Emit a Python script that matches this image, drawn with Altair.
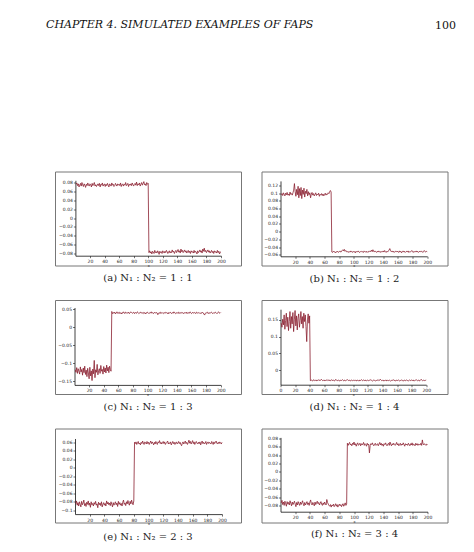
import altair as alt
import pandas as pd

# ---------------- text ----------------
header_left = "CHAPTER 4.  SIMULATED EXAMPLES OF FAPS"
header_right = "100"
captions = [
    "(a) N₁ : N₂ = 1 : 1",
    "(b) N₁ : N₂ = 1 : 2",
    "(c) N₁ : N₂ = 1 : 3",
    "(d) N₁ : N₂ = 1 : 4",
    "(e) N₁ : N₂ = 2 : 3",
    "(f) N₁ : N₂ = 3 : 4",
]

# ---------------- data (x = 1..200, values in thousandths) ----------------
x_vals = list(range(1, 201))

a_milli = [
    76, 79, 73, 77, 70, 74, 78, 72, 80, 75, 71, 77, 74, 69, 76, 73, 79, 74, 72, 77,
    75, 70, 78, 73, 76, 80, 72, 75, 71, 74, 77, 73, 78, 70, 76, 74, 79, 72, 75, 77,
    71, 76, 73, 78, 74, 70, 77, 75, 72, 79, 74, 76, 71, 73, 78, 75, 72, 77, 74, 76,
    73, 79, 71, 75, 77, 72, 76, 74, 80, 73, 75, 78, 71, 76, 74, 77, 73, 79, 75, 72,
    76, 78, 74, 81, 73, 77, 75, 79, 72, 76, 80, 74, 78, 82, 75, 77, 73, 80, 76, 78,
    -78, -74, -79, -76, -81, -75, -77, -80, -73, -78, -76, -79, -74, -77, -82, -75, -78, -76, -80, -74,
    -77, -79, -75, -78, -73, -76, -80, -77, -74, -79, -76, -78, -72, -77, -75, -80, -76, -73, -78, -75,
    -71, -77, -74, -79, -70, -76, -73, -78, -75, -72, -77, -74, -79, -76, -73, -78, -75, -80, -74, -77,
    -76, -79, -73, -78, -75, -77, -81, -74, -78, -76, -72, -77, -74, -79, -70, -75, -68, -76, -73, -78,
    -75, -72, -77, -74, -79, -76, -73, -78, -75, -80, -74, -77, -76, -79, -73, -78, -75, -81, -77, -76,
]

b_milli = [
    96, 99, 94, 101, 97, 93, 100, 96, 102, 95, 98, 94, 103, 97, 99, 95, 101, 108, 125, 104,
    92, 110, 96, 118, 88, 112, 94, 115, 86, 108, 97, 113, 90, 105, 99, 110, 93, 104, 96, 101,
    88, 98, 102, 95, 99, 93, 97, 101, 94, 98, 96, 100, 92, 97, 95, 99, 94, 98, 93, 96,
    100, 95, 98, 97, 101, 99, 104, 107, 103,
    -53, -54, -51, -53, -52, -55, -52, -53, -51, -54, -52, -50, -53, -52, -49, -47, -50, -46, -51, -49,
    -52, -53, -51, -54, -52, -53, -50, -52, -54, -51, -53, -52, -55, -51, -53, -52, -50, -53, -54, -52,
    -51, -53, -52, -54, -50, -52, -53, -51, -54, -52, -53, -50, -52, -51, -48, -52, -47, -51, -53, -50,
    -52, -54, -51, -53, -50, -52, -54, -51, -53, -52, -50, -53, -49, -52, -54, -51, -53, -50, -48, -44,
    -49, -52, -50, -53, -51, -54, -52, -50, -53, -51, -52, -54, -50, -53, -51, -55, -52, -50, -53, -51,
    -54, -52, -51, -53, -50, -54, -52, -53, -51, -49, -52, -54, -51, -53, -52, -50, -53, -51, -54, -52,
    -51, -53, -50, -52, -54, -51, -49, -52, -53, -51, -52,
]

c_milli = [
    -118, -125, -112, -128, -115, -122, -130, -110, -124, -117, -133, -113, -126, -108, -131, -119, -137, -114, -127, -143,
    -111, -135, -121, -148, -116, -129, -92, -140, -118, -125, -103, -132, -120, -115, -128, -106, -122, -117, -130, -109,
    -124, -113, -127, -105, -121, -111, -126, -108, -118, -122,
    44, 38, 41, 39, 42, 37, 40, 43, 39, 41, 38, 42, 40, 37, 41, 39, 43, 40, 38, 42,
    40, 41, 39, 42, 38, 40, 43, 41, 39, 40, 42, 38, 41, 40, 39, 43, 41, 38, 40, 42,
    39, 41, 40, 38, 42, 40, 37, 41, 39, 42, 40, 38, 41, 40, 43, 39, 41, 38, 40, 42,
    39, 41, 40, 35, 39, 41, 38, 42, 40, 39, 41, 38, 40, 42, 39, 41, 40, 37, 41, 39,
    42, 40, 38, 41, 39, 43, 40, 38, 41, 39, 40, 42, 38, 41, 40, 39, 42, 40, 38, 41,
    39, 40, 42, 38, 41, 40, 39, 43, 41, 38, 40, 42, 39, 41, 40, 38, 42, 40, 39, 41,
    40, 38, 41, 39, 42, 40, 37, 34, 39, 41, 40, 42, 38, 41, 39, 40, 42, 41, 38, 40,
    41, 39, 42, 40, 38, 41, 43, 40, 39, 41,
]

d_milli = [
    140, 128, 152, 135, 165, 122, 148, 170, 130, 158, 118, 145, 175, 125, 160, 138, 172, 115, 150, 178,
    132, 162, 120, 155, 168, 128, 148, 175, 138, 160, 125, 170, 145, 165, 130, 85, 150, 168, 140, 162,
    -32, -30, -31, -33, -30, -29, -32, -31, -30, -33, -31, -29, -32, -30, -31, -28, -30, -32, -31, -30,
    -33, -31, -30, -32, -29, -31, -30, -33, -31, -29, -32, -30, -31, -33, -30, -28, -31, -32, -30, -31,
    -33, -30, -32, -31, -29, -31, -33, -30, -32, -31, -30, -29, -31, -32, -30, -33, -31, -30, -32, -31,
    -30, -32, -31, -33, -30, -31, -32, -30, -33, -31, -29, -31, -32, -30, -31, -33, -30, -32, -31, -30,
    -32, -31, -29, -30, -31, -33, -32, -30, -31, -32, -33, -31, -30, -32, -29, -31, -28, -30, -32, -31,
    -33, -30, -32, -31, -30, -33, -31, -32, -30, -31, -33, -32, -30, -31, -29, -32, -31, -33, -30, -32,
    -31, -30, -32, -33, -31, -30, -32, -31, -33, -30, -31, -32, -30, -31, -33, -32, -30, -31, -32, -30,
    -31, -33, -30, -32, -31, -29, -30, -32, -31, -30, -33, -31, -28, -30, -32, -31, -30, -32, -31, -30,
]

e_milli = [
    -85, -78, -88, -82, -90, -80, -86, -92, -79, -87, -83, -76, -89, -84, -91, -81, -86, -78, -88, -83,
    -93, -80, -87, -84, -90, -82, -86, -79, -88, -85, -94, -81, -87, -83, -89, -80, -92, -86, -82, -88,
    -84, -90, -78, -85, -81, -87, -83, -89, -80, -86, -92, -82, -88, -84, -80, -87, -83, -91, -79, -86,
    -82, -88, -84, -90, -81, -76, -86, -83, -89, -80, -85, -77, -84, -88, -79, -85, -76, -83, -87, -78,
    60, 57, 61, 55, 59, 62, 56, 58, 54, 60, 57, 63, 58, 55, 61, 59, 56, 62, 57, 60,
    55, 59, 63, 57, 61, 58, 54, 60, 56, 62, 58, 55, 61, 59, 64, 57, 60, 56, 59, 62,
    57, 61, 55, 58, 60, 63, 56, 59, 57, 61, 54, 58, 62, 57, 60, 55, 59, 61, 56, 58,
    62, 57, 60, 55, 52, 58, 61, 56, 59, 63, 57, 60, 55, 59, 65, 58, 62, 56, 60, 64,
    57, 61, 55, 59, 62, 58, 56, 60, 57, 61, 54, 59, 63, 57, 60, 56, 58, 62, 55, 59,
    61, 57, 60, 58, 56, 62, 59, 55, 61, 57, 60, 63, 58, 56, 60, 57, 61, 59, 56, 60,
]

f_milli = [
    -74, -68, -78, -72, -80, -70, -76, -82, -71, -77, -73, -79, -69, -75, -81, -72, -78, -74, -70, -77,
    -83, -73, -79, -71, -76, -80, -72, -78, -74, -69, -77, -81, -73, -79, -75, -71, -78, -74, -80, -72,
    -67, -76, -79, -73, -77, -81, -72, -78, -74, -70, -76, -73, -79, -75, -71, -77, -80, -74, -78, -72,
    -76, -79, -66, -73, -77, -80, -82, -78, -84, -79, -81, -77, -83, -80, -76, -82, -78, -84, -80, -77,
    -81, -78, -83, -79, -76, -82, -79, -74, -80, -77,
    68, 63, 67, 70, 64, 66, 62, 68, 65, 71, 64, 67, 61, 66, 69, 63, 65, 68, 62, 67,
    64, 66, 70, 63, 67, 65, 61, 68, 64, 66, 45, 63, 67, 65, 69, 64, 62, 66, 68, 63,
    65, 67, 62, 66, 70, 64, 68, 63, 66, 61, 67, 65, 69, 64, 62, 66, 68, 63, 71, 65,
    62, 67, 64, 68, 65, 63, 66, 70, 64, 67, 62, 65, 68, 63, 66, 64, 69, 65, 61, 67,
    64, 66, 63, 68, 65, 62, 67, 64, 69, 63, 66, 65, 62, 68, 64, 67, 63, 66, 65, 64,
    68, 63, 76, 66, 64, 67, 65, 63, 66, 65,
]

# axis domains and tick values
x_ticks = [20, 40, 60, 80, 100, 120, 140, 160, 180, 200]
x_ticks_d = [0, 20, 40, 60, 80, 100, 120, 140, 160, 180, 200]
y_dom = {
    "a": [-0.085, 0.085], "b": [-0.064, 0.132], "c": [-0.16, 0.055],
    "d": [-0.044, 0.182], "e": [-0.109, 0.069], "f": [-0.095, 0.082],
}
y_ticks = {
    "a": [-0.08, -0.06, -0.04, -0.02, 0, 0.02, 0.04, 0.06, 0.08],
    "b": [-0.06, -0.04, -0.02, 0, 0.02, 0.04, 0.06, 0.08, 0.1, 0.12],
    "c": [-0.15, -0.1, -0.05, 0, 0.05],
    "d": [0, 0.05, 0.1, 0.15],
    "e": [-0.1, -0.08, -0.06, -0.04, -0.02, 0, 0.02, 0.04, 0.06],
    "f": [-0.08, -0.06, -0.04, -0.02, 0, 0.02, 0.04, 0.06, 0.08],
}

# ---------------- layout / style ----------------
W, H = 186, 94
LINE = "#8a2030"
# pixel placement of the inner plot inside each framed box
x_rng = {"a": [20.4, 166], "b": [19, 165.7], "c": [19.5, 165.7],
         "d": [19, 164.7], "e": [20, 167], "f": [19, 166]}
y_rng = {"a": [84.2, 8.8], "b": [84.8, 9.4], "c": [84.9, 7.5],
         "d": [84.7, 9.2], "e": [85.6, 10], "f": [83.2, 8.9]}

ax_common = dict(grid=False, labelFontSize=4.5, labelFont="DejaVu Sans", labelColor="#222",
                 tickSize=2, tickWidth=0.6, tickColor="#111", domainColor="#111",
                 domainWidth=0.8, labelPadding=1, labelFlush=False, labelOverlap=False)


def panel(key, vals, caption):
    df = pd.DataFrame({"x": x_vals, "y": [v / 1000 for v in vals]})
    xr, yr = x_rng[key], y_rng[key]
    xt = x_ticks_d if key == "d" else x_ticks
    return alt.Chart(df).mark_line(color=LINE, strokeWidth=0.8).encode(
        x=alt.X("x:Q",
                scale=alt.Scale(domain=[0, 200], range=xr, nice=False, zero=False),
                axis=alt.Axis(values=xt, offset=yr[0] - H, title="x", titleFontSize=4,
                              titleFontWeight="normal", titlePadding=0, titleColor="#222",
                              format="d", **ax_common)),
        y=alt.Y("y:Q",
                scale=alt.Scale(domain=y_dom[key], range=yr, nice=False, zero=False),
                axis=alt.Axis(values=y_ticks[key], offset=-xr[0], title="",
                              format="~g", **ax_common)),
    ).properties(
        width=W, height=H,
        title=alt.TitleParams(caption, orient="bottom", offset=6, fontSize=10,
                              font="DejaVu Serif", fontWeight="normal", color="#222",
                              anchor="middle"),
    )


pa = panel("a", a_milli, captions[0])
pb = panel("b", b_milli, captions[1])
pc = panel("c", c_milli, captions[2])
pd_ = panel("d", d_milli, captions[3])
pe = panel("e", e_milli, captions[4])
pf = panel("f", f_milli, captions[5])

hdf_l = pd.DataFrame({"t": [header_left]})
hdf_r = pd.DataFrame({"t": [header_right]})
head_l = alt.Chart(hdf_l).mark_text(align="left", baseline="middle", font="DejaVu Serif",
                                    fontStyle="italic", fontSize=11, color="#111").encode(
    x=alt.value(-9), y=alt.value(17), text="t:N")
head_r = alt.Chart(hdf_r).mark_text(align="right", baseline="middle", font="DejaVu Serif",
                                    fontSize=11, color="#111").encode(
    x=alt.value(401), y=alt.value(18), text="t:N")
header = alt.layer(head_l, head_r).properties(
    width=380, height=147.5, view=alt.ViewBackground(strokeOpacity=0))

row1 = alt.hconcat(pa, pb, spacing=18.5)
row2 = alt.hconcat(pc, pd_, spacing=18.5)
row3 = alt.hconcat(pe, pf, spacing=18.5)

chart = alt.vconcat(header, row1, row2, row3, spacing=14.5).properties(
    padding={"left": 38, "top": 0, "right": 0, "bottom": 0}
).configure_view(stroke="#777", strokeWidth=1)

chart.save("out.html", embed_options={"renderer": "svg", "actions": False})
